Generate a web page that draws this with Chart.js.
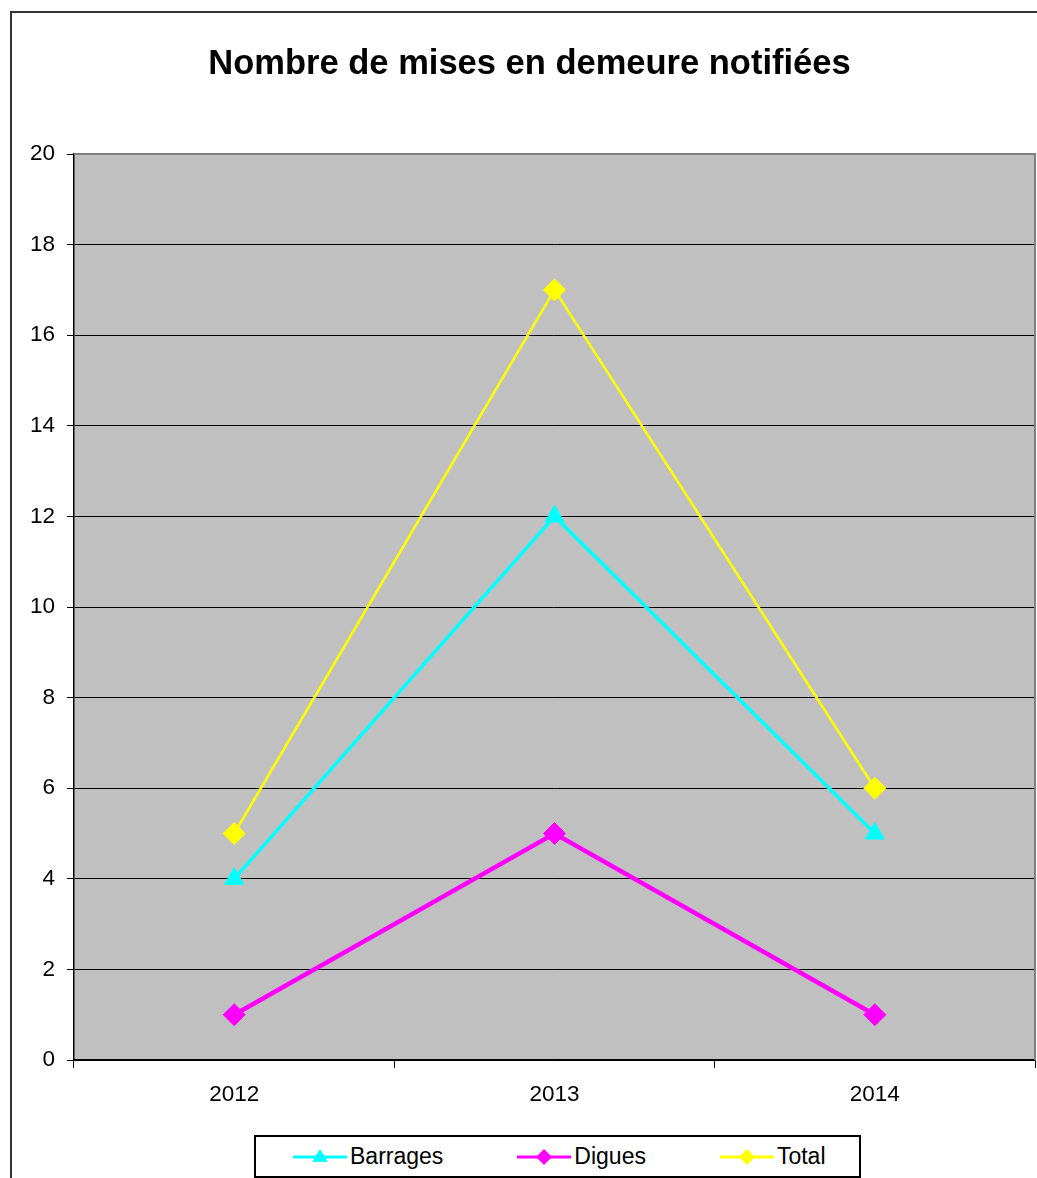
<!DOCTYPE html>
<html>
<head>
<meta charset="utf-8">
<title>Nombre de mises en demeure notifiées</title>
<script src="https://cdn.jsdelivr.net/npm/chart.js@4/dist/chart.umd.min.js"></script>
<style>
  body { margin: 0; background: #fff; }
  #wrap { position: relative; width: 1037px; height: 1178px; }
  #legend {
    position: absolute; left: 254px; top: 1135px; width: 607px; height: 43px;
    box-sizing: border-box; border: 2px solid #000; background: #fff;
    display: flex; align-items: center; padding-left: 37px; gap: 74px;
    font-family: "Liberation Sans", Arial, sans-serif; font-size: 23px; color: #000;
  }
  #legend .item { display: flex; align-items: center; }
  #legend .item span { margin-left: 3px; }
</style>
</head>
<body>
<div id="wrap">
  <canvas id="chart" width="1037" height="1178"></canvas>
  <div id="legend"></div>
</div>
<script>
/* ======================================================
   DATA
====================================================== */

const years = ["2012", "2013", "2014"];
const barrages = [4, 12, 5];
const digues = [1, 5, 1];
const total = [5, 17, 6];

const yMin = 0;
const yMax = 20;
const yStep = 2;

const FONT = "'Liberation Sans', Arial, sans-serif";

/* ======================================================
   PLUGINS
====================================================== */

const plotFrame = {
  id: "plotFrame",
  beforeDraw(chart) {
    const { ctx, chartArea: a } = chart;
    ctx.save();
    // outer chart frame
    ctx.strokeStyle = "#333";
    ctx.lineWidth = 2;
    ctx.strokeRect(11, 12, 1040, 1180);
    // grey plot area
    ctx.fillStyle = "#C0C0C0";
    ctx.fillRect(a.left, a.top, a.right - a.left, a.bottom - a.top);
    ctx.restore();
  },
  beforeDatasetsDraw(chart) {
    const { ctx, chartArea: a } = chart;
    ctx.save();
    ctx.strokeStyle = "#808080";
    ctx.lineWidth = 2;
    ctx.beginPath();
    ctx.moveTo(a.left, a.top);
    ctx.lineTo(a.right, a.top);
    ctx.lineTo(a.right, a.bottom);
    ctx.stroke();
    ctx.restore();
  }
};

/* ======================================================
   CHART
====================================================== */

const chart = new Chart(document.getElementById("chart"), {
  type: "line",
  data: {
    labels: years,
    datasets: [
      {
        label: "Barrages",
        data: barrages,
        borderColor: "#00FFFF",
        backgroundColor: "#00FFFF",
        borderWidth: 3.5,
        pointStyle: "triangle",
        pointRadius: 11,
        pointBorderWidth: 1
      },
      {
        label: "Digues",
        data: digues,
        borderColor: "#FF00FF",
        backgroundColor: "#FF00FF",
        borderWidth: 4.5,
        pointStyle: "rectRot",
        pointRadius: 11,
        pointBorderWidth: 1
      },
      {
        label: "Total",
        data: total,
        borderColor: "#FFFF00",
        backgroundColor: "#FFFF00",
        borderWidth: 2.5,
        pointStyle: "rectRot",
        pointRadius: 11,
        pointBorderWidth: 1
      }
    ]
  },
  options: {
    responsive: false,
    animation: false,
    layout: { autoPadding: false, padding: { left: 24, right: 2, top: 0, bottom: 58 } },
    plugins: {
      legend: { display: false },
      tooltip: { enabled: false },
      title: {
        display: true,
        text: "Nombre de mises en demeure notifiées",
        color: "#000",
        font: { family: FONT, size: 34.5, weight: "bold" },
        padding: { top: 44, bottom: 68.6 }
      }
    },
    scales: {
      x: {
        offset: true,
        grid: { offset: true, drawOnChartArea: false, color: "#000", tickLength: 8 },
        border: { color: "#000", width: 1.5 },
        ticks: { color: "#000", font: { family: FONT, size: 22.5 }, padding: 13 },
        afterFit(scale) {
          scale.height = 60;
          scale.paddingLeft = 0;
          scale.paddingRight = 0;
        }
      },
      y: {
        min: yMin,
        max: yMax,
        grid: { color: "#000", tickLength: 7 },
        border: { color: "#000", width: 1.5 },
        ticks: { stepSize: yStep, color: "#000", font: { family: FONT, size: 22.5 }, padding: 12 },
        afterFit(scale) {
          scale.width = 50;
          scale.paddingTop = 0;
          scale.paddingBottom = 0;
        }
      }
    }
  },
  plugins: [plotFrame]
});

/* ======================================================
   HTML LEGEND
====================================================== */

function drawSample(canvas, ds) {
  const ctx = canvas.getContext("2d");
  const w = canvas.width, h = canvas.height, cy = h / 2, cx = w / 2;
  ctx.strokeStyle = ds.borderColor;
  ctx.lineWidth = 3;
  ctx.beginPath();
  ctx.moveTo(0, cy);
  ctx.lineTo(w, cy);
  ctx.stroke();
  ctx.fillStyle = ds.backgroundColor;
  ctx.beginPath();
  const r = 8;
  if (ds.pointStyle === "triangle") {
    ctx.moveTo(cx, cy - r);
    ctx.lineTo(cx + r, cy + r * 0.6);
    ctx.lineTo(cx - r, cy + r * 0.6);
  } else {
    ctx.moveTo(cx, cy - r);
    ctx.lineTo(cx + r, cy);
    ctx.lineTo(cx, cy + r);
    ctx.lineTo(cx - r, cy);
  }
  ctx.closePath();
  ctx.fill();
}

const legendEl = document.getElementById("legend");
chart.data.datasets.forEach(ds => {
  const item = document.createElement("div");
  item.className = "item";
  const c = document.createElement("canvas");
  c.width = 54;
  c.height = 20;
  drawSample(c, ds);
  const label = document.createElement("span");
  label.textContent = ds.label;
  item.appendChild(c);
  item.appendChild(label);
  legendEl.appendChild(item);
});
</script>
</body>
</html>
